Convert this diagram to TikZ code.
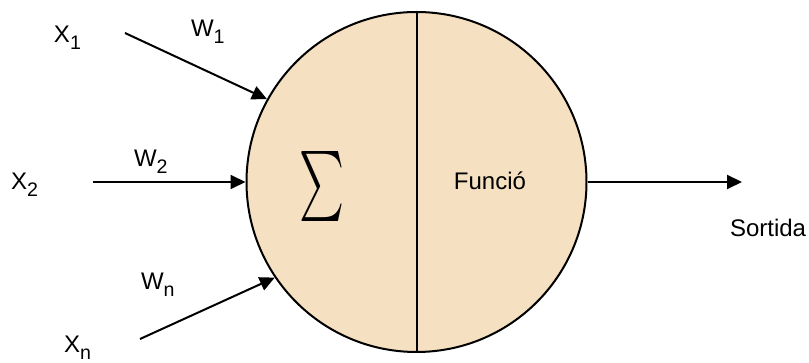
\documentclass[tikz,border=0pt]{standalone}
\usepackage{fontspec}
\setmainfont{Liberation Sans}
\usepackage{graphicx}
\usetikzlibrary{arrows.meta}
\definecolor{neuronfill}{HTML}{F5E0C1}
\newcommand{\lowidx}[1]{\raisebox{-3.3pt}{\fontsize{9.8pt}{11pt}\selectfont #1}}

\begin{document}
\begin{tikzpicture}[x=0.5pt, y=-0.5pt, line width=1pt,
    lbl/.style = {font=\fontsize{12pt}{14pt}\selectfont, inner sep=0pt, anchor=base west},
    arr/.style = {-{Triangle[length=7.5pt, width=7pt]}}]
    \useasboundingbox (0,0) rectangle (809,363);

    % Neuron body with the two halves
    \node[draw, circle, fill=neuronfill, minimum size=170pt, inner sep=0pt] (neuron) at (416.5,182) {};
    \draw (neuron.north) -- (neuron.south);
    \node[inner sep=0pt] (sum) at (322,187) {\resizebox*{22.5pt}{35pt}{$\sum$}};
    \node[lbl, anchor=center] (func) at (490,181) {Funció};

    % Inputs and their weights
    \foreach \i/\sx/\sy/\ang in {1/125/33/151, 2/93/182/180, n/140/339/214}{
        \coordinate (in-\i) at (\sx,\sy);
        \draw[arr] (in-\i) -- (neuron.\ang);
      }
    \foreach \i/\lx/\ly in {1/53/43, 2/10/190, n/63/353}{
        \node[lbl] (x-\i) at (\lx,\ly) {X\lowidx{\i}};
      }
    \foreach \i/\lx/\ly in {1/190/37, 2/133/167, n/140/290}{
        \node[lbl] (w-\i) at (\lx,\ly) {W\lowidx{\i}};
      }

    % Output
    \coordinate (out) at (742,182);
    \draw[arr] (neuron.east) -- (out);
    \node[lbl] (sortida) at (729,237) {Sortida};
\end{tikzpicture}
\end{document}
